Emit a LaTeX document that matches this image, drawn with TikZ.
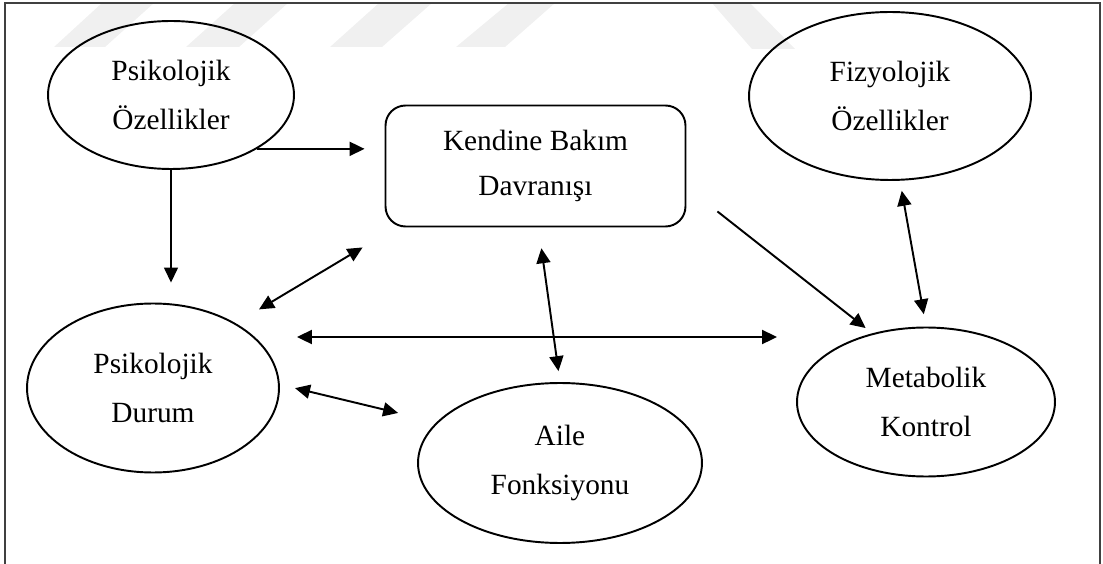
\documentclass[tikz,border=0pt]{standalone}
\usepackage{fontspec}
\setmainfont{Liberation Serif}
\usetikzlibrary{shapes.geometric,arrows.meta}
\tikzset{
  oval/.style={draw, ellipse, line width=1.1pt, inner sep=0pt, align=center,
    font=\fontsize{16.7}{27.5}\selectfont},
  boxnode/.style={draw, rectangle, rounded corners=0.4cm, line width=1.1pt,
    inner sep=0pt, align=center, minimum width=6cm, minimum height=2.42cm,
    font=\fontsize{16.7}{26}\selectfont},
  arr/.style={line width=1.1pt, -{Triangle[length=0.3cm,width=0.28cm]}},
  darr/.style={line width=1.1pt,
    {Triangle[length=0.3cm,width=0.28cm]}-{Triangle[length=0.3cm,width=0.28cm]}},
  stripe/.style={fill=gray!12, draw=none}
}
\begin{document}
\begin{tikzpicture}[x={(0.02cm,0)}, y={(0,-0.02cm)}]
  \useasboundingbox (0,0) rectangle (1103,564);
  % Watermark stripes
  \fill[stripe] (102,3) -- (154,3) -- (105,47) -- (54,47) -- cycle;
  \fill[stripe] (235,3) -- (288,3) -- (239,47) -- (186,47) -- cycle;
  \fill[stripe] (379,3) -- (432,3) -- (382,47) -- (330,47) -- cycle;
  \fill[stripe] (509,3) -- (555,3) -- (505,47) -- (456,47) -- cycle;
  \fill[stripe] (712,3) -- (750,3) -- (795,49) -- (752,49) -- cycle;
  % Frame
  \draw[gray!50!black, line width=0.8pt] (5,564) -- (5,3) -- (1100,3) -- (1100,564);
  % Nodes
  \node[oval, minimum width=4.92cm, minimum height=2.96cm] (psoz) at (171,95) {Psikolojik\\Özellikler};
  \node[oval, minimum width=5.64cm, minimum height=3.36cm] (fizoz) at (890,96) {Fizyolojik\\Özellikler};
  \node[boxnode] (kbd) at (535.5,166) {Kendine Bakım\\Davranışı};
  \node[oval, minimum width=5.04cm, minimum height=3.38cm] (psdur) at (153,388) {Psikolojik\\Durum};
  \node[oval, minimum width=5.68cm, minimum height=3.2cm] (aile) at (560,463) {Aile\\Fonksiyonu};
  \node[oval, minimum width=5.16cm, minimum height=2.98cm] (metab) at (926,402) {Metabolik\\Kontrol};
  % Arrows
  \draw[arr] (psoz.-32) -- (psoz.-32 -| kbd.west) [shorten >=0.4cm];
  \draw[arr, line width=0.8pt, shorten >=0.4cm] (psoz.south) -- (psoz.south |- psdur.north);
  \draw[darr, shorten <=0.54cm] (psdur.38) -- ([xshift=-0.44cm,yshift=-0.4cm]kbd.south west);
  \draw[darr, shorten <=0.34cm, shorten >=0.38cm] ([yshift=1.02cm]psdur.east) -- ([yshift=1.02cm]psdur.east -| metab.west);
  \draw[darr, shorten <=0.31cm, shorten >=0.39cm] ([yshift=0.07cm]psdur.east) -- ([yshift=0.91cm]aile.west);
  \draw[darr, shorten <=0.42cm, shorten >=0.22cm] ([xshift=0.06cm]kbd.south) -- (aile.north);
  \draw[arr, shorten >=0.17cm] ([xshift=0.62cm,yshift=0.32cm]kbd.south east) -- (metab.128);
  \draw[darr, shorten <=0.2cm, shorten >=0.25cm] ([xshift=0.2cm]fizoz.south) -- (metab.north);
\end{tikzpicture}
\end{document}
